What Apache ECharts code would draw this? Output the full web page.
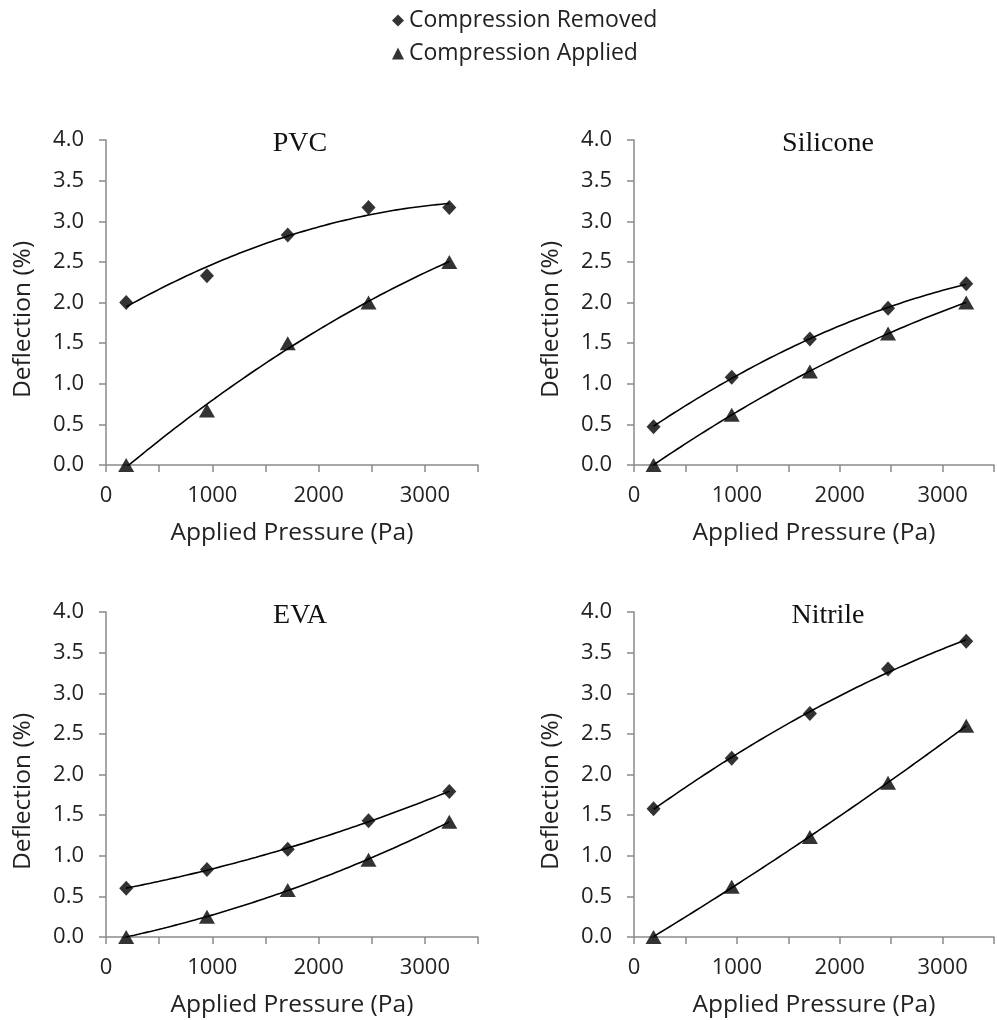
<!DOCTYPE html>
<html>
<head>
<meta charset="utf-8">
<script src="https://cdn.jsdelivr.net/npm/echarts@6/dist/echarts.min.js"></script>
<style>html,body{margin:0;padding:0;background:#fff}#c{width:997px;height:1020px}</style>
</head>
<body>
<div id="c"></div>
<script>
// ---- data ----
const pressure = [190, 950, 1710, 2470, 3230];
const panels = ['PVC', 'Silicone', 'EVA', 'Nitrile'];
const removedPVC = [2.00, 2.33, 2.83, 3.17, 3.17];
const appliedPVC = [0.00, 0.67, 1.50, 2.00, 2.50];
const removedSilicone = [0.47, 1.08, 1.55, 1.93, 2.23];
const appliedSilicone = [0.00, 0.62, 1.15, 1.62, 2.00];
const removedEVA = [0.60, 0.83, 1.08, 1.43, 1.79];
const appliedEVA = [0.00, 0.25, 0.58, 0.95, 1.42];
const removedNitrile = [1.58, 2.20, 2.75, 3.30, 3.64];
const appliedNitrile = [0.00, 0.62, 1.23, 1.90, 2.60];
const removedAll = [removedPVC, removedSilicone, removedEVA, removedNitrile];
const appliedAll = [appliedPVC, appliedSilicone, appliedEVA, appliedNitrile];
const yTicks = ['0.0','0.5','1.0','1.5','2.0','2.5','3.0','3.5','4.0'];
const xTickLabels = ['0','1000','2000','3000'];

// quadratic least-squares trendline (as in spreadsheet polynomial trendline)
function quadFit(xs, ys) {
  const s = [0,0,0,0,0], t = [0,0,0];
  for (let i = 0; i < xs.length; i++) {
    const x = xs[i] / 1000, y = ys[i];
    let p = 1;
    for (let k = 0; k < 5; k++) { s[k] += p; if (k < 3) t[k] += p * y; p *= x; }
  }
  const A = [[s[0],s[1],s[2],t[0]],[s[1],s[2],s[3],t[1]],[s[2],s[3],s[4],t[2]]];
  for (let i = 0; i < 3; i++) {
    for (let j = i + 1; j < 3; j++) {
      const f = A[j][i] / A[i][i];
      for (let k = i; k < 4; k++) A[j][k] -= f * A[i][k];
    }
  }
  const c = [0,0,0];
  for (let i = 2; i >= 0; i--) {
    let v = A[i][3];
    for (let k = i + 1; k < 3; k++) v -= A[i][k] * c[k];
    c[i] = v / A[i][i];
  }
  return x => { const u = x / 1000; return c[0] + c[1] * u + c[2] * u * u; };
}
function trend(xs, ys) {
  const f = quadFit(xs, ys), out = [];
  const a = xs[0], b = xs[xs.length - 1], n = 80;
  for (let i = 0; i <= n; i++) { const x = a + (b - a) * i / n; out.push([x, f(x)]); }
  return out;
}

const FONT = 'Open Sans';
const TXT = '#222222';
const AX = '#8a8a8a';
const lefts = [106, 634, 106, 634];
const tops = [140, 140, 612, 612];
const grids = [], xAxes = [], yAxes = [], series = [], titles = [];
for (let g = 0; g < 4; g++) {
  grids.push({ left: lefts[g], top: tops[g], width: 372, height: 325, containLabel: false });
  xAxes.push({
    type: 'value', gridIndex: g, min: 0, max: 3500, interval: 500,
    name: 'Applied Pressure (Pa)', nameLocation: 'middle', nameGap: 56,
    nameTextStyle: { fontFamily: FONT, fontSize: 24.5, color: TXT },
    axisLine: { lineStyle: { color: AX, width: 1.5 } },
    axisTick: { show: true, length: 7, lineStyle: { color: AX, width: 1.5 } },
    axisLabel: { fontFamily: FONT, fontSize: 22, color: TXT, margin: 20,
      formatter: v => xTickLabels.includes(String(v)) ? String(v) : '' },
    splitLine: { show: false }
  });
  yAxes.push({
    type: 'value', gridIndex: g, min: 0, max: 4, interval: 0.5,
    name: 'Deflection (%)', nameLocation: 'middle', nameGap: 70,
    nameTextStyle: { fontFamily: FONT, fontSize: 24.5, color: TXT, padding: [0, 34, 0, 0] },
    axisLine: { show: true, lineStyle: { color: AX, width: 1.5 } },
    axisTick: { show: true, length: 7, lineStyle: { color: AX, width: 1.5 } },
    axisLabel: { fontFamily: FONT, fontSize: 22, color: TXT, margin: 22,
      formatter: v => yTicks[Math.round(v / 0.5)] },
    splitLine: { show: false }
  });
  titles.push({ text: panels[g], left: lefts[g] + 189, top: tops[g] - 15, textAlign: 'center',
    textStyle: { fontFamily: 'Liberation Serif', fontSize: 28, fontWeight: 'normal', color: '#111' } });
  const rem = removedAll[g], app = appliedAll[g];
  series.push({ type: 'line', xAxisIndex: g, yAxisIndex: g, data: trend(pressure, rem), showSymbol: false,
    lineStyle: { color: '#000', width: 1.6 }, silent: true, z: 1 });
  series.push({ type: 'line', xAxisIndex: g, yAxisIndex: g, data: trend(pressure, app), showSymbol: false,
    lineStyle: { color: '#000', width: 1.6 }, silent: true, z: 1 });
  series.push({ name: 'Compression Removed', type: 'scatter', xAxisIndex: g, yAxisIndex: g,
    data: pressure.map((x, i) => [x, rem[i]]), symbol: 'diamond', symbolSize: [14, 15],
    itemStyle: { color: '#000' }, z: 3 });
  series.push({ name: 'Compression Applied', type: 'scatter', xAxisIndex: g, yAxisIndex: g,
    data: pressure.map((x, i) => [x, app[i]]), symbol: 'triangle', symbolSize: [16, 14],
    itemStyle: { color: '#000' }, z: 3 });
}

const chart = echarts.init(document.getElementById('c'), null, { renderer: 'canvas' });
chart.setOption({
  animation: false,
  backgroundColor: '#fff',
  title: titles,
  legend: {
    data: [{ name: 'Compression Removed', icon: 'diamond' }, { name: 'Compression Applied', icon: 'triangle' }],
    orient: 'vertical', left: 387, top: 4, itemWidth: 12, itemHeight: 12, itemGap: 10,
    textStyle: { fontFamily: FONT, fontSize: 23, color: TXT }
  },
  grid: grids, xAxis: xAxes, yAxis: yAxes, series: series
});
</script>
</body>
</html>
